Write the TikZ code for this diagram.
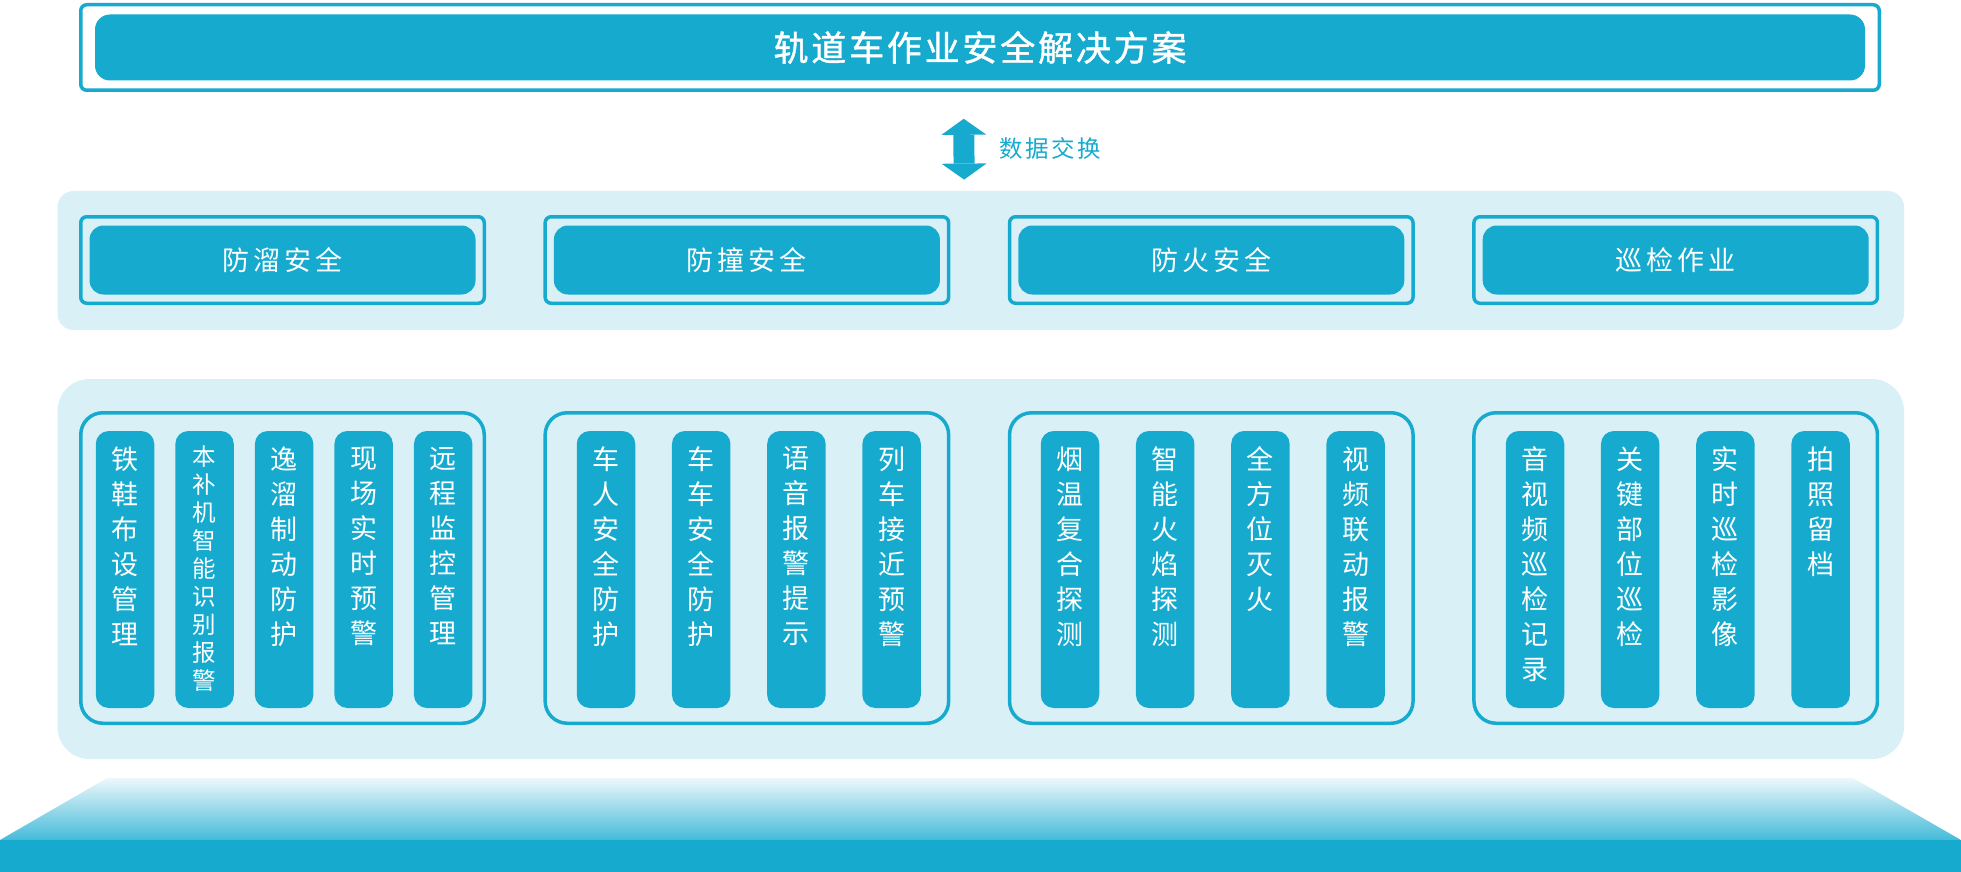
\documentclass[tikz,border=0pt]{standalone}
\usepackage{fontspec}
\setmainfont{Noto Sans CJK SC}
\newfontfamily\bannerfont[LetterSpace=8, FakeBold=1.2]{Noto Sans CJK SC}
\newfontfamily\tagfont[LetterSpace=15]{Noto Sans CJK SC}
\newfontfamily\xchgfont[LetterSpace=10]{Noto Sans CJK SC}
\usetikzlibrary{arrows.meta, positioning}
\definecolor{railblue}{RGB}{22,170,207}
\definecolor{railpale}{RGB}{218,240,247}

\begin{document}
\begin{tikzpicture}[
        x=0.5pt, y=-0.5pt, % one unit = one pixel of the layout
        frame/.style={rectangle, draw=railblue, line width=1.75pt, rounded corners=3pt, inner sep=0pt},
        bar/.style={rectangle, fill=railblue, rounded corners=7pt, text=white, inner sep=0pt},
        band/.style={rectangle, fill=railpale, inner sep=0pt, minimum width=923.25pt},
        topframe/.style={frame, minimum width=201.75pt, minimum height=43.25pt},
        topbar/.style={bar, minimum width=193pt, minimum height=34.5pt, font=\tagfont\fontsize{13.5pt}{13.5pt}\selectfont},
        group/.style={frame, rounded corners=11pt, minimum width=201.75pt, minimum height=155.25pt},
        col/.style={rectangle, fill=railblue, rounded corners=6.5pt, minimum width=29.25pt, minimum height=138.5pt, inner sep=0pt},
        coltext/.style={text=white, align=center, inner sep=0pt, font=\fontsize{13.5pt}{17.5pt}\selectfont},
        smalltext/.style={coltext, font=\fontsize{11.75pt}{14pt}\selectfont},
        xchange/.style={railblue, line width=10.5pt, {Triangle[width=22.5pt, length=8pt, line width=0pt]}-{Triangle[width=22.5pt, length=8pt, line width=0pt]}}
      ]
      \useasboundingbox (0,0) rectangle (1961,872);

      % --- Background bands and platform ---
      \node (band1) [band, rounded corners=8pt, minimum height=69.5pt] at (980.75,260.5) {};
      \node (band2) [band, rounded corners=16pt, minimum height=190pt] at (980.75,569) {};
      \shade [top color=railpale!50!white, bottom color=railblue!80!white] (107,778) -- (1853,778) -- (1961,840) -- (0,840) -- cycle;
      \fill [railblue] (0,840) rectangle (1961,872);

      % Title banner
      \node (banner) [frame, fill=white, minimum width=899.25pt, minimum height=42.75pt] at (980,47.5) {};
      \node (title) [bar, rounded corners=7.5pt, minimum width=885pt, minimum height=33pt,
                     font=\bannerfont\fontsize{17.5pt}{17.5pt}\selectfont] at (banner.center) {轨道车作业安全解决方案};

      % Data exchange
      \draw [xchange, shorten <=13.4pt, shorten >=5.5pt] ([xshift=-8.25pt]banner.south) -- ([xshift=-8.25pt]band1.north);
      \node (xchg) [text=railblue, inner sep=0pt, font=\xchgfont\fontsize{11.75pt}{11.75pt}\selectfont] at (1050.5,149) {数据交换};

      % --- Safety domains ---
      \node (f1) [topframe] at (282.5,260) {};
      \node (f2) [topframe, right=28.7pt of f1] {};
      \node (f3) [topframe, right=28.7pt of f2] {};
      \node (f4) [topframe, right=28.7pt of f3] {};
      \node (d1) [topbar] at (f1.center) {防溜安全};
      \node (d2) [topbar] at (f2.center) {防撞安全};
      \node (d3) [topbar] at (f3.center) {防火安全};
      \node (d4) [topbar] at (f4.center) {巡检作业};

      % --- Function groups ---
      \node (g1) [group] at (282.5,568) {};
      \node (g2) [group, right=28.7pt of g1] {};
      \node (g3) [group, right=28.7pt of g2] {};
      \node (g4) [group, right=28.7pt of g3] {};

      % Anti-roll functions
      \node (c11) [col] at (125,569.5) {};
      \node (c12) [col, right=10.125pt of c11] {};
      \node (c13) [col, right=10.125pt of c12] {};
      \node (c14) [col, right=10.125pt of c13] {};
      \node (c15) [col, right=10.125pt of c14] {};
      \node (t11) [coltext, below=8pt of c11.north] {铁\\鞋\\布\\设\\管\\理};
      \node (t12) [smalltext, below=7.5pt of c12.north] {本\\补\\机\\智\\能\\识\\别\\报\\警};
      \node (t13) [coltext, below=8pt of c13.north] {逸\\溜\\制\\动\\防\\护};
      \node (t14) [coltext, below=8pt of c14.north] {现\\场\\实\\时\\预\\警};
      \node (t15) [coltext, below=8pt of c15.north] {远\\程\\监\\控\\管\\理};

      % Anti-collision functions
      \node (c21) [col] at (606,569.5) {};
      \node (c22) [col, right=17.95pt of c21] {};
      \node (c23) [col, right=17.95pt of c22] {};
      \node (c24) [col, right=17.95pt of c23] {};
      \node (t21) [coltext, below=8pt of c21.north] {车\\人\\安\\全\\防\\护};
      \node (t22) [coltext, below=8pt of c22.north] {车\\车\\安\\全\\防\\护};
      \node (t23) [coltext, below=8pt of c23.north] {语\\音\\报\\警\\提\\示};
      \node (t24) [coltext, below=8pt of c24.north] {列\\车\\接\\近\\预\\警};

      % Fire functions
      \node (c31) [col] at (1070,569.5) {};
      \node (c32) [col, right=17.95pt of c31] {};
      \node (c33) [col, right=17.95pt of c32] {};
      \node (c34) [col, right=17.95pt of c33] {};
      \node (t31) [coltext, below=8pt of c31.north] {烟\\温\\复\\合\\探\\测};
      \node (t32) [coltext, below=8pt of c32.north] {智\\能\\火\\焰\\探\\测};
      \node (t33) [coltext, below=8pt of c33.north] {全\\方\\位\\灭\\火};
      \node (t34) [coltext, below=8pt of c34.north] {视\\频\\联\\动\\报\\警};

      % Inspection functions
      \node (c41) [col] at (1535,569.5) {};
      \node (c42) [col, right=17.95pt of c41] {};
      \node (c43) [col, right=17.95pt of c42] {};
      \node (c44) [col, right=17.95pt of c43] {};
      \node (t41) [coltext, below=8pt of c41.north] {音\\视\\频\\巡\\检\\记\\录};
      \node (t42) [coltext, below=8pt of c42.north] {关\\键\\部\\位\\巡\\检};
      \node (t43) [coltext, below=8pt of c43.north] {实\\时\\巡\\检\\影\\像};
      \node (t44) [coltext, below=8pt of c44.north] {拍\\照\\留\\档};

    \end{tikzpicture}
\end{document}
